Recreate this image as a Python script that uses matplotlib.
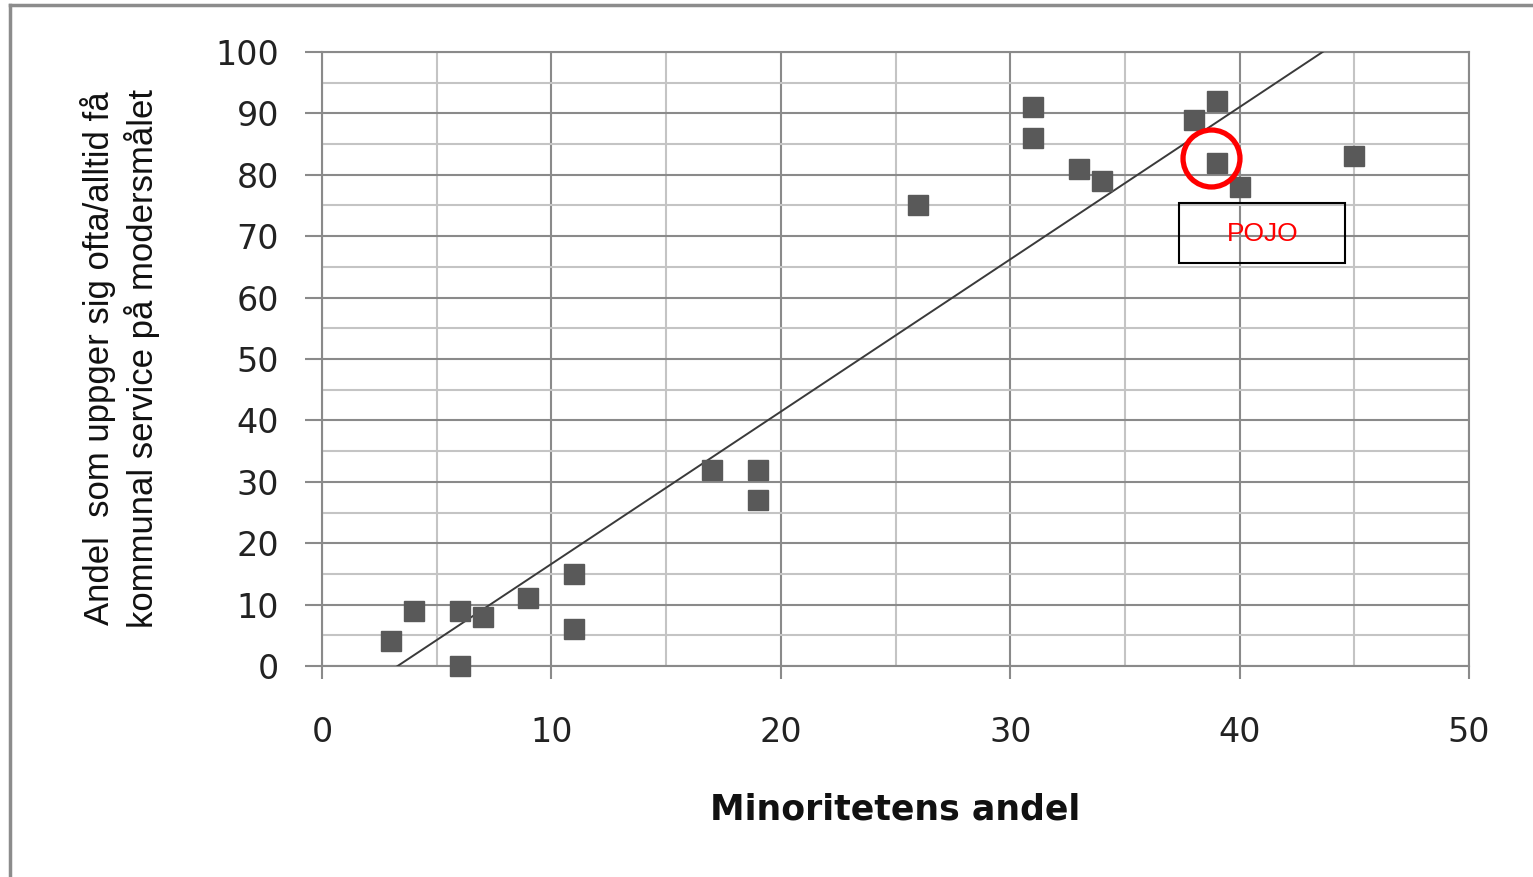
import matplotlib
matplotlib.use("Agg")
import matplotlib.pyplot as plt
import numpy as np
from matplotlib.lines import Line2D
from matplotlib.patches import Rectangle

# Data
minority_share = [3, 4, 6, 6, 7, 9, 11, 11, 17, 19, 19, 26, 31, 31, 33, 34, 38, 39, 39, 40, 45]
service_share = [4, 9, 9, 0, 8, 11, 15, 6, 32, 32, 27, 75, 91, 86, 81, 79, 89, 92, 82, 78, 83]
x_ticks = [0, 10, 20, 30, 40, 50]
y_ticks = [0, 10, 20, 30, 40, 50, 60, 70, 80, 90, 100]
highlight_label = "POJO"
highlight_point = (38.75, 82.7)

fig = plt.figure(figsize=(15.33, 8.77), dpi=100)
ax = fig.add_axes([322/1533, 1-666/877, (1469-322)/1533, (666-52)/877])

major_c = "#8a8a8a"
minor_c = "#c4c4c4"

ax.set_xlim(0, 50)
ax.set_ylim(0, 100)
ax.set_xticks(x_ticks)
ax.set_yticks(y_ticks)
ax.set_xticks(np.arange(5, 50, 10), minor=True)
ax.set_yticks(np.arange(5, 100, 10), minor=True)
ax.grid(which="major", color=major_c, lw=1.5, zorder=0)
ax.grid(which="minor", color=minor_c, lw=1.5, zorder=0)
ax.set_axisbelow(True)
for s in ax.spines.values():
    s.set_color(major_c)
    s.set_linewidth(1.5)

ax.tick_params(axis="y", which="major", length=12, width=1.5, color=major_c, pad=19,
               labelsize=24, labelcolor="#222222")
ax.tick_params(axis="x", which="major", length=9, width=1.5, color=major_c, pad=27,
               labelsize=24, labelcolor="#222222")
ax.tick_params(which="minor", length=0)
for lab in ax.get_yticklabels() + ax.get_xticklabels():
    lab.set_family(["DejaVu Sans"])

# trend line (least squares)
slope, intercept = np.polyfit(minority_share, service_share, 1)
xs = np.array([0, 50])
ax.plot(xs, slope*xs + intercept, color="#3a3a3a", lw=1.4, zorder=3)

ax.plot(minority_share, service_share, linestyle="none", marker="s", markersize=14,
        color="#595959", zorder=4, clip_on=False)

# highlight circle
ax.plot([highlight_point[0]], [highlight_point[1]], marker="o", markersize=41,
        mfc="none", mec="#ff0000", mew=3.8, linestyle="none", zorder=5, clip_on=False)

# label box
ax.add_patch(Rectangle((37.35, 65.6), 7.25, 9.8, fill=False, edgecolor="black", lw=1.5, zorder=5))
ax.text(41.0, 70.4, highlight_label, color="#ff0000", fontsize=19, ha="center", va="center",
        family=["Liberation Sans", "DejaVu Sans"], zorder=6)

# axis titles
fig.text(120/1533, 1-358/877, "Andel  som uppger sig ofta/alltid få\nkommunal service på modersmålet",
         rotation=90, ha="center", va="center", fontsize=25, linespacing=1.3,
         family=["Liberation Sans", "DejaVu Sans"], color="#111111")
fig.text(895/1533, 1-810/877, "Minoritetens andel", ha="center", va="center", fontsize=25,
         fontweight="bold", family=["DejaVu Sans"], color="#111111")

# outer border
fig.add_artist(Line2D([10/1533, 10/1533], [0, 1-5/877], color="#8c8c8c", lw=2.5))
fig.add_artist(Line2D([10/1533, 1], [1-5/877, 1-5/877], color="#8c8c8c", lw=2.5))

fig.savefig("out.png", dpi=100)
